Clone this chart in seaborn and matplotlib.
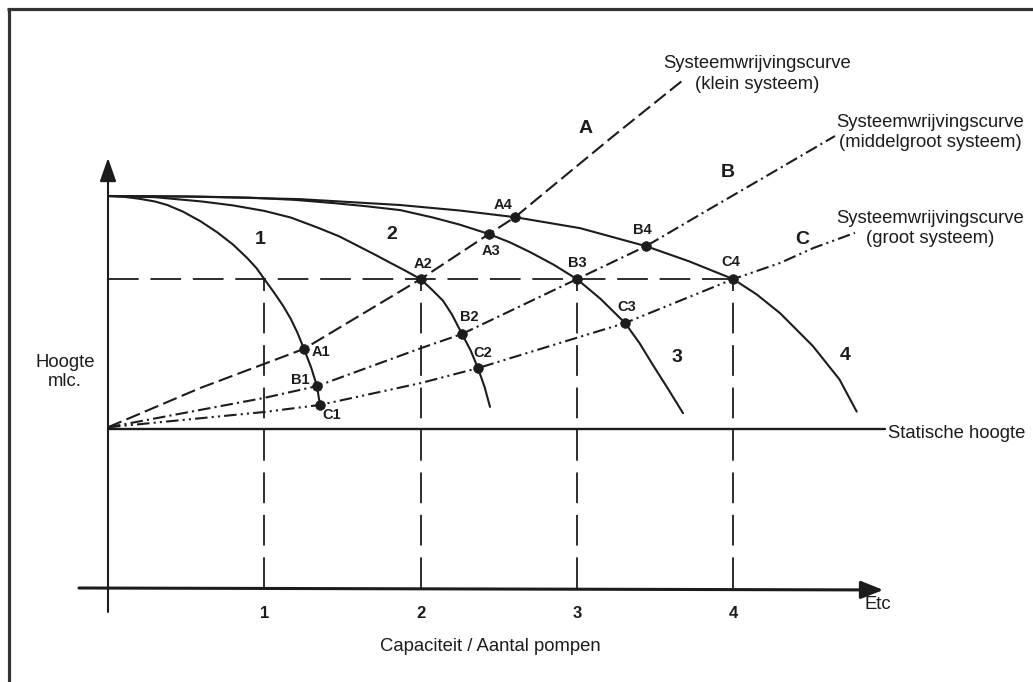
import matplotlib
matplotlib.use("Agg")
import matplotlib.pyplot as plt
import pandas as pd
import seaborn as sns
from matplotlib.lines import Line2D

# ---------------------------------------------------------------
# Data: flow in multiples of one pump's design capacity, head in m
# ---------------------------------------------------------------
shutoff_head = 10.0
design_head = 7.88
static_head = 4.05
pump_counts = [1, 2, 3, 4]

# Pump curves for 1..4 pumps running in parallel
pump1_q = [0.0, 0.1, 0.2, 0.3, 0.38, 0.48, 0.59, 0.7, 0.8, 0.89, 0.95, 1.0,
           1.06, 1.12, 1.17, 1.21, 1.254, 1.30, 1.337, 1.356]
pump1_h = [10.0, 9.98, 9.93, 9.86, 9.77, 9.60, 9.36, 9.07, 8.76, 8.42, 8.16, 7.88,
           7.55, 7.20, 6.86, 6.53, 6.10, 5.62, 5.15, 4.67]

pump2_q = [0.0, 0.3, 0.6, 0.8, 1.0, 1.17, 1.337, 1.48, 1.612, 1.71, 1.804, 1.9, 2.0,
           2.07, 2.143, 2.2, 2.265, 2.32, 2.367, 2.41, 2.444]
pump2_h = [10.0, 9.97, 9.86, 9.76, 9.62, 9.45, 9.20, 8.97, 8.70, 8.50, 8.30, 8.10, 7.88,
           7.62, 7.33, 6.98, 6.48, 6.06, 5.61, 5.12, 4.62]

pump3_q = [0.0, 0.5, 0.9, 1.2, 1.44, 1.65, 1.87, 2.08, 2.25, 2.437, 2.57, 2.70, 2.85,
           3.0, 3.15, 3.308, 3.40, 3.486, 3.58, 3.679]
pump3_h = [10.0, 9.99, 9.96, 9.90, 9.82, 9.74, 9.64, 9.45, 9.27, 9.03, 8.82, 8.57, 8.25,
           7.88, 7.38, 6.76, 6.25, 5.69, 5.10, 4.46]

pump4_q = [0.0, 0.6, 1.228, 1.868, 2.25, 2.604, 3.02, 3.442, 3.72, 4.0, 4.15, 4.3,
           4.51, 4.68, 4.79]
pump4_h = [10.0, 9.98, 9.92, 9.77, 9.63, 9.46, 9.18, 8.72, 8.33, 7.88, 7.49, 7.01,
           6.17, 5.32, 4.50]

# System friction curves (small, medium, large system)
sysA_q = [0.0, 0.589, 1.254, 2.0, 2.437, 2.604, 2.81, 3.23, 3.68]
sysA_h = [4.1, 5.10, 6.10, 7.88, 9.03, 9.46, 10.14, 11.52, 12.96]

sysB_q = [0.0, 1.0, 1.337, 2.003, 2.265, 3.0, 3.442, 3.871, 4.191, 4.651]
sysB_h = [4.1, 4.85, 5.15, 6.12, 6.48, 7.88, 8.72, 9.72, 10.46, 11.53]

sysC_q = [0.0, 1.0, 1.356, 2.003, 2.367, 3.308, 4.0, 4.299, 4.511, 4.779]
sysC_h = [4.1, 4.49, 4.67, 5.23, 5.61, 6.76, 7.88, 8.29, 8.67, 9.06]

# Operating points (intersection of pump curve and system curve)
op_names = ["A1", "B1", "C1", "A2", "B2", "C2", "A3", "B3", "C3", "A4", "B4", "C4"]
op_q = [1.254, 1.337, 1.356, 2.0, 2.265, 2.367, 2.437, 3.0, 3.308, 2.604, 3.442, 4.0]
op_h = [6.10, 5.15, 4.67, 7.88, 6.48, 5.61, 9.03, 7.88, 6.76, 9.46, 8.72, 7.88]

# ---------------------------------------------------------------
sns.set_style("white")
plt.rcParams["font.family"] = ["Liberation Sans", "DejaVu Sans"]
narrow = ["Liberation Sans Narrow", "Liberation Sans", "DejaVu Sans"]
ink = "#1c1c1c"

W, H = 1033, 682
fig = plt.figure(figsize=(W / 100, H / 100), dpi=100)
ax = fig.add_axes([0, 0, 1, 1])
ax.set_xlim(-0.691, 5.918)
ax.set_ylim(-2.398, 15.0)
ax.set_axis_off()

# frame around the sheet (left and top edges)
fig.add_artist(Line2D([8.5 / W, 8.5 / W], [0, 1 - 8.5 / H], color="#333333", lw=2.3,
                      solid_capstyle="butt", transform=fig.transFigure))
fig.add_artist(Line2D([7.0 / W, 1], [1 - 8.5 / H, 1 - 8.5 / H], color="#333333", lw=2.3,
                      solid_capstyle="butt", transform=fig.transFigure))

# axes with arrows
ax.annotate("", xy=(0, 10.97), xytext=(0, -0.61),
            arrowprops=dict(arrowstyle="-|>,head_length=0.8,head_width=0.28", color=ink,
                            lw=1.5, mutation_scale=18, shrinkA=0, shrinkB=0))
ax.annotate("", xy=(4.96, -0.05), xytext=(-0.186, 0.0),
            arrowprops=dict(arrowstyle="-|>,head_length=0.75,head_width=0.3", color=ink,
                            lw=2.2, mutation_scale=18, shrinkA=0, shrinkB=0))

# static head line
sns.lineplot(x=[0.0, 4.97], y=[static_head, static_head], ax=ax, color=ink, lw=1.7)

# design head guides
guide_ls = (0, (17, 6.5))
ax.hlines(design_head, 0, max(pump_counts), colors=ink, lw=1.3, linestyles=[guide_ls])
ax.vlines(pump_counts, 0, design_head, colors=ink, lw=1.3, linestyles=[guide_ls])

# pump curves
for q, h in [(pump1_q, pump1_h), (pump2_q, pump2_h), (pump3_q, pump3_h), (pump4_q, pump4_h)]:
    sns.lineplot(x=q, y=h, ax=ax, color=ink, lw=1.5, sort=False, estimator=None)

# system curves
sns.lineplot(x=sysA_q, y=sysA_h, ax=ax, color=ink, lw=1.5, sort=False, estimator=None,
             linestyle=(0, (7, 2.6)))
sns.lineplot(x=sysB_q, y=sysB_h, ax=ax, color=ink, lw=1.5, sort=False, estimator=None,
             linestyle=(0, (6, 2, 1, 2)))
sns.lineplot(x=sysC_q, y=sysC_h, ax=ax, color=ink, lw=1.5, sort=False, estimator=None,
             linestyle=(0, (6, 2, 1, 2, 1, 2)))

# operating points
ops = pd.DataFrame({"name": op_names, "q": op_q, "h": op_h})
sns.scatterplot(data=ops, x="q", y="h", ax=ax, color=ink, s=48, edgecolor=ink, zorder=5)

label_offsets = {
    "A1": (17, -3), "B1": (-17, 6), "C1": (12, -10),
    "A2": (2, 15), "B2": (7, 17), "C2": (5, 15),
    "A3": (2, -17), "B3": (0, 16), "C3": (2, 16),
    "A4": (-12, 12), "B4": (-4, 16), "C4": (-2, 17),
}
for name, q, h in zip(op_names, op_q, op_h):
    ax.annotate(name, xy=(q, h), xytext=label_offsets[name], textcoords="offset pixels",
                ha="center", va="center", fontsize=10.5, fontweight="bold",
                family=narrow, color=ink)

# curve identifiers
big = dict(fontsize=14, fontweight="bold", color=ink, ha="center", va="center")
for txt, q, h in [("1", 0.972, 8.88), ("2", 1.817, 9.03), ("3", 3.64, 5.87), ("4", 4.715, 5.94),
                  ("A", 3.058, 11.73), ("B", 3.967, 10.59), ("C", 4.44, 8.88)]:
    ax.text(q, h, txt, **big)

# axis labels and annotations
reg = dict(fontsize=13.3, color=ink)
ax.text(-0.275, 5.51, "Hoogte\nmlc.", ha="center", va="center", linespacing=1.15, **reg)
ax.text(4.99, 3.95, "Statische hoogte", ha="left", va="center", **reg)
ax.text(4.84, -0.43, "Etc", ha="left", va="center", **reg)
ax.text(2.444, -1.48, "Capaciteit / Aantal pompen", ha="center", va="center", **reg)
for n in pump_counts:
    ax.text(n, -0.64, str(n), ha="center", va="center", fontsize=12, fontweight="bold",
            family=narrow, color=ink)

ax.text(4.152, 13.11, "Systeemwrijvingscurve\n(klein systeem)", ha="center", va="center",
        linespacing=1.25, **reg)
ax.text(5.259, 11.62, "Systeemwrijvingscurve\n(middelgroot systeem)", ha="center", va="center",
        linespacing=1.25, **reg)
ax.text(5.259, 9.18, "Systeemwrijvingscurve\n(groot systeem)", ha="center", va="center",
        linespacing=1.25, **reg)

fig.savefig("out.png", dpi=100, facecolor="white")
